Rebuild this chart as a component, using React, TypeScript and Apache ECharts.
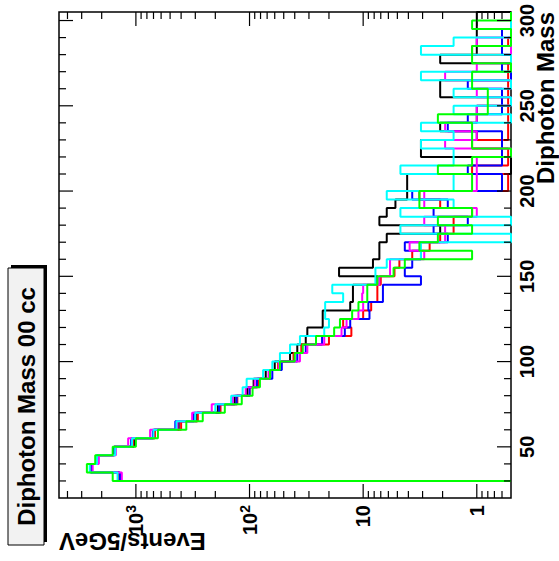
import { useEffect, useRef } from "react";
import * as echarts from "echarts";

// Diphoton invariant mass, 5 GeV bins starting at 30 GeV (bins 30-35 ... 300-305)
const BIN_START = 30;
const BIN_WIDTH = 5;
const MASS_MIN = 20;
const MASS_MAX = 305;
const EVENTS_MIN = 0.5;
const EVENTS_MAX = 4750;

const blackHist = [
  1400, 2500, 2150, 1560, 1040, 690, 420, 290, 190, 135, 105, 92,
  72, 60, 44, 38, 32, 31, 22.7, 22.7, 13, 12.3, 12.3, 7.5,
  16.3, 8.2, 7.2, 7.2, 6.2, 2.1, 7.2, 6.2, 5.2, 4.1, 4.1, 4.1, 0, 0, 3.1, 3.1,
  1.0, 2.1, 1.0, 1.0, 0, 2.1, 2.1, 0, 0, 2.1, 1.0, 1.0, 1.0, 1.0, 1.0,
];
const redHist = [
  1420, 2480, 2180, 1540, 1060, 680, 400, 285, 180, 128, 100, 84,
  67, 56, 41, 35, 20, 12.7, 15, 10, 8.5, 7.5, 7.5, 7.0,
  5.3, 4.8, 3.7, 2.6, 2.1, 1.6, 1.6, 1.1, 2.1, 3.2, 0.53, 0.53, 1.1, 0.53, 0.53, 1.1,
  0.53, 0.53, 0.53, 0.53, 0.53, 0.53, 0.53, 0.53, 0.53, 0, 1.1, 0.53, 0, 0, 0,
];
const greenHist = [
  1600, 2700, 2280, 1600, 1000, 640, 360, 258, 165, 117, 94, 81,
  66, 54, 40, 34, 26, 18, 16, 12.5, 11, 9.2, 9.2, 7.5,
  5.4, 4.3, 1.1, 3.2, 2.2, 1.1, 2.2, 1.1, 3.2, 3.2, 1.1, 1.1, 2.2, 1.1, 0, 1.1,
  1.1, 1.1, 2.2, 0.8, 0.8, 0.8, 1.1, 1.1, 0, 1.1, 1.1, 0, 0, 1.1, 0,
];
const blueHist = [
  1380, 2450, 2200, 1550, 1100, 710, 450, 310, 185, 130, 100, 86,
  63, 52, 38, 32, 23, 14.5, 13, 8.8, 9, 6.7, 6.7, 3.1,
  4.3, 3.7, 3.1, 4.3, 1.8, 2.4, 1.2, 2.4, 1.8, 3.7, 0.6, 0.6, 1.2, 0.6, 0.6, 0.6,
  0.6, 1.8, 1.2, 0.6, 0.6, 0.6, 1.2, 0, 0.6, 0, 0.6, 0.6, 0.6, 0, 0,
];
const magentaHist = [
  1330, 2400, 2120, 1500, 1170, 750, 430, 320, 215, 140, 108, 90,
  68, 55, 36, 31, 22, 15.5, 14, 11, 10, 10.2, 10, 7.2,
  5.8, 5.8, 2.9, 3.9, 1.9, 1.9, 2.9, 1.0, 2.9, 2.9, 1.0, 1.0, 1.0, 1.0, 0, 1.9,
  1.0, 1.9, 1.0, 1.0, 0, 1.0, 0, 1.9, 1.0, 0, 0, 1.0, 0, 0, 0,
];
const cyanHist = [
  1450, 2550, 2200, 1520, 1080, 700, 440, 300, 200, 145, 115, 106,
  76, 63, 54, 44, 36, 22, 20, 21.6, 21.6, 15, 18.7, 7.8,
  7.8, 6.2, 3.1, 3.1, 0, 4.7, 0, 4.7, 1.6, 6.2, 1.6, 1.6, 4.7, 1.6, 1.6, 3.1,
  1.6, 3.1, 0, 1.6, 0, 1.6, 0, 3.1, 0, 0, 3.1, 1.6, 0, 0, 0,
];

const massMajorTicks = [50, 100, 150, 200, 250, 300];
const massMinorTicks = [
  30, 40, 60, 70, 80, 90, 110, 120, 130, 140, 160, 170, 180, 190,
  210, 220, 230, 240, 260, 270, 280, 290,
];
const eventsMajorTicks = [1, 10, 100, 1000];
const eventsMinorTicks = [
  0.6, 0.7, 0.8, 0.9, 2, 3, 4, 5, 6, 7, 8, 9, 20, 30, 40, 50, 60, 70, 80, 90,
  200, 300, 400, 500, 600, 700, 800, 900, 2000, 3000, 4000,
];

const FONT = "Liberation Sans, Arial, Helvetica, sans-serif";

const histograms = [
  { name: "black", color: "#000000", values: blackHist },
  { name: "red", color: "#ff0000", values: redHist },
  { name: "blue", color: "#0000ff", values: blueHist },
  { name: "magenta", color: "#ff00ff", values: magentaHist },
  { name: "cyan", color: "#00ffff", values: cyanHist },
  { name: "green", color: "#00ff00", values: greenHist },
];

// Step outline of a histogram: rise from the floor at the first edge,
// one point per bin low edge, close at the last high edge.
function stepPoints(values: number[]) {
  const floor = (v: number) => (v > EVENTS_MIN ? v : EVENTS_MIN);
  const pts: number[][] = [[BIN_START, EVENTS_MIN]];
  values.forEach((v, i) => pts.push([BIN_START + i * BIN_WIDTH, floor(v)]));
  const lastEdge = BIN_START + values.length * BIN_WIDTH;
  pts.push([lastEdge, floor(values[values.length - 1])]);
  pts.push([lastEdge, EVENTS_MIN]);
  return pts;
}

const TICK_MAJOR = 14;
const TICK_MINOR = 7;

function massTickSeries() {
  const data = [
    ...massMajorTicks.map((m) => [m, 1, TICK_MAJOR]),
    ...massMinorTicks.map((m) => [m, 1, TICK_MINOR]),
  ];
  return {
    type: "custom",
    silent: true,
    clip: false,
    z: 10,
    data,
    renderItem: (params: any, api: any) => {
      const cs = params.coordSys;
      const x = api.coord([api.value(0), 1])[0];
      const len = api.value(2);
      const style = { stroke: "#000", lineWidth: 1.2 };
      return {
        type: "group",
        children: [
          { type: "line", shape: { x1: x, y1: cs.y + cs.height, x2: x, y2: cs.y + cs.height - len }, style },
          { type: "line", shape: { x1: x, y1: cs.y, x2: x, y2: cs.y + len }, style },
        ],
      };
    },
  };
}

function eventsTickSeries() {
  const data = [
    ...eventsMajorTicks.map((v) => [MASS_MIN, v, TICK_MAJOR]),
    ...eventsMinorTicks.map((v) => [MASS_MIN, v, TICK_MINOR]),
  ];
  return {
    type: "custom",
    silent: true,
    clip: false,
    z: 10,
    data,
    renderItem: (params: any, api: any) => {
      const cs = params.coordSys;
      const y = api.coord([MASS_MIN, api.value(1)])[1];
      const len = api.value(2);
      const style = { stroke: "#000", lineWidth: 1.2 };
      return {
        type: "group",
        children: [
          { type: "line", shape: { x1: cs.x, y1: y, x2: cs.x + len, y2: y }, style },
          { type: "line", shape: { x1: cs.x + cs.width, y1: y, x2: cs.x + cs.width - len, y2: y }, style },
        ],
      };
    },
  };
}

function eventsLabel(v: number) {
  const lg = Math.log10(v);
  const e = Math.round(lg);
  if (Math.abs(lg - e) > 1e-6) return "";
  if (e === 0) return "1";
  if (e === 1) return "10";
  return `10{sup|${e}}`;
}

export default function App() {
  const ref = useRef<HTMLDivElement>(null);

  useEffect(() => {
    if (!ref.current) return;
    const chart = echarts.init(ref.current, null, { renderer: "svg" });
    const option: any = {
      animation: false,
      backgroundColor: "#ffffff",
      grid: {
        show: true,
        left: 63,
        right: 12,
        top: 59,
        bottom: 48,
        borderColor: "#000",
        borderWidth: 1.5,
        backgroundColor: "transparent",
      },
      xAxis: {
        type: "value",
        min: MASS_MIN,
        max: MASS_MAX,
        interval: 10,
        axisLine: { show: false },
        axisTick: { show: false },
        splitLine: { show: false },
        axisLabel: {
          formatter: (v: number) => (Math.round(v) % 50 === 0 ? String(Math.round(v)) : ""),
          fontSize: 20,
          fontWeight: "bold",
          fontFamily: FONT,
          color: "#000",
          margin: 6,
        },
      },
      yAxis: {
        type: "log",
        logBase: 10,
        min: EVENTS_MIN,
        max: EVENTS_MAX,
        axisLine: { show: false },
        axisTick: { show: false },
        splitLine: { show: false },
        axisLabel: {
          formatter: eventsLabel,
          fontSize: 20,
          fontWeight: "bold",
          fontFamily: FONT,
          color: "#000",
          margin: 7,
          lineHeight: 24,
          rich: {
            sup: {
              fontSize: 14,
              fontWeight: "bold",
              fontFamily: FONT,
              color: "#000",
              verticalAlign: "top",
              lineHeight: 24,
            },
          },
        },
      },
      graphic: [
        { type: "rect", z: 100, shape: { x: 19, y: 11, width: 277, height: 36 }, style: { fill: "#000" } },
        {
          type: "rect",
          z: 101,
          shape: { x: 16, y: 8, width: 277, height: 36 },
          style: { fill: "#f2f2f2", stroke: "#000", lineWidth: 1 },
        },
        {
          type: "text",
          z: 102,
          x: 154.5,
          y: 26.5,
          style: {
            text: "Diphoton Mass 00 cc",
            fontSize: 24,
            fontWeight: "bold",
            fontFamily: FONT,
            fill: "#000",
            align: "center",
            verticalAlign: "middle",
          },
        },
        {
          type: "text",
          z: 102,
          x: 549,
          y: 545,
          style: {
            text: "Diphoton Mass",
            fontSize: 24,
            fontWeight: "bold",
            fontFamily: FONT,
            fill: "#000",
            align: "right",
            verticalAlign: "middle",
          },
        },
        {
          type: "text",
          z: 102,
          x: 20,
          y: 59,
          rotation: Math.PI / 2,
          style: {
            text: "Events/5GeV",
            fontSize: 24,
            fontWeight: "bold",
            fontFamily: FONT,
            fill: "#000",
            align: "right",
            verticalAlign: "middle",
          },
        },
      ],
      series: [
        ...histograms.map((h) => ({
          name: h.name,
          type: "line",
          step: "end",
          data: stepPoints(h.values),
          symbol: "none",
          showSymbol: false,
          clip: true,
          lineStyle: { color: h.color, width: 2 },
          itemStyle: { color: h.color },
        })),
        massTickSeries(),
        eventsTickSeries(),
      ],
    };
    chart.setOption(option);
    return () => chart.dispose();
  }, []);

  return (
    <div
      style={{
        position: "fixed",
        left: 0,
        top: 0,
        width: 559,
        height: 561,
        overflow: "hidden",
        background: "#fff",
      }}
    >
      <div
        ref={ref}
        style={{
          position: "absolute",
          left: -1,
          top: 1,
          width: 561,
          height: 559,
          transform: "rotate(-90deg)",
          transformOrigin: "50% 50%",
        }}
      />
    </div>
  );
}
